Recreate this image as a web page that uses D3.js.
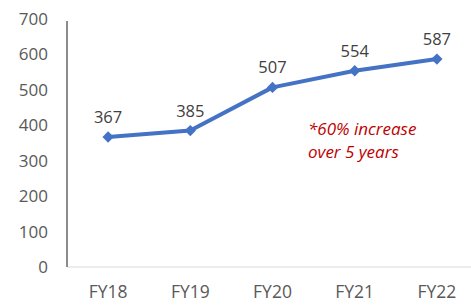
<!DOCTYPE html>
<html>
<head>
<meta charset="utf-8">
<style>
	html, body { margin: 0; padding: 0; background: #fff; }
	text { font-family: 'Open Sans', sans-serif; }
</style>
</head>
<body>
<svg id="chart" width="471" height="305"></svg>
<script src="https://cdnjs.cloudflare.com/ajax/libs/d3/7.8.5/d3.min.js"></script>
<script>
	var years = ['FY18', 'FY19', 'FY20', 'FY21', 'FY22'];
	var values = [367, 385, 507, 554, 587];
	var yTicks = [0, 100, 200, 300, 400, 500, 600, 700];
	var note = ['*60% increase', 'over 5 years'];

	var svg = d3.select('#chart');
	var plotLeft = 67, plotRight = 478, plotTop = 19, plotBottom = 267;

	var x = d3.scaleBand().domain(years).range([plotLeft, plotRight]);
	var y = d3.scaleLinear().domain([0, 700]).range([plotBottom, plotTop]);

	// baseline and vertical axis
	svg.append('line')
		.attr('x1', plotLeft).attr('x2', 471)
		.attr('y1', y(0)).attr('y2', y(0))
		.attr('stroke', '#d9d9d9').attr('stroke-width', 1);
	svg.append('line')
		.attr('x1', plotLeft).attr('x2', plotLeft)
		.attr('y1', y(700) + 2).attr('y2', y(0))
		.attr('stroke', '#8c8c8c').attr('stroke-width', 2);

	svg.append('g').selectAll('text')
		.data(yTicks)
		.join('text')
		.attr('x', 48)
		.attr('y', function(d) { return y(d); })
		.attr('dy', '0.35em')
		.attr('text-anchor', 'end')
		.attr('fill', '#595959')
		.attr('font-size', 17)
		.text(function(d) { return d; });

	svg.append('g').selectAll('text')
		.data(years)
		.join('text')
		.attr('x', function(d) { return x(d) + x.bandwidth() / 2; })
		.attr('y', 298)
		.attr('text-anchor', 'middle')
		.attr('fill', '#595959')
		.attr('font-size', 17.5)
		.text(function(d) { return d; });

	var cx = function(d, i) { return x(years[i]) + x.bandwidth() / 2; };

	svg.append('path')
		.datum(values)
		.attr('fill', 'none')
		.attr('stroke', '#4472c4')
		.attr('stroke-width', 4)
		.attr('stroke-linejoin', 'round')
		.attr('d', d3.line().x(cx).y(function(d) { return y(d); }));

	// diamond markers (square turned 45 degrees)
	svg.append('g').selectAll('path')
		.data(values)
		.join('path')
		.attr('transform', function(d, i) { return 'translate(' + cx(d, i) + ',' + y(d) + ') rotate(45)'; })
		.attr('d', d3.symbol().type(d3.symbolSquare).size(64))
		.attr('fill', '#4472c4');

	svg.append('g').selectAll('text')
		.data(values)
		.join('text')
		.attr('x', cx)
		.attr('y', function(d) { return y(d) - 14; })
		.attr('text-anchor', 'middle')
		.attr('fill', '#404040')
		.attr('font-size', 16.5)
		.text(function(d) { return d; });

	svg.append('g').selectAll('text')
		.data(note)
		.join('text')
		.attr('x', 308)
		.attr('y', function(d, i) { return 135 + i * 23; })
		.attr('fill', '#c00000')
		.attr('font-style', 'italic')
		.attr('font-size', 17)
		.text(function(d) { return d; });
</script>
</body>
</html>
